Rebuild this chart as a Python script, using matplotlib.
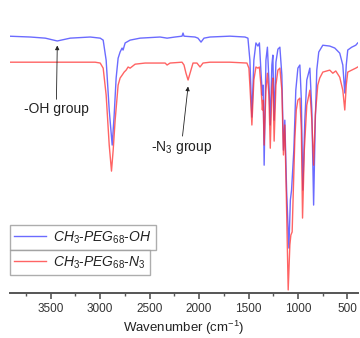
import matplotlib
matplotlib.use("Agg")
import matplotlib.pyplot as plt
from matplotlib.ticker import MultipleLocator

plt.rcParams['font.family'] = ['Liberation Sans', 'DejaVu Sans']
plt.rcParams['mathtext.fontset'] = 'custom'
plt.rcParams['mathtext.it'] = 'Liberation Sans:italic'
plt.rcParams['mathtext.rm'] = 'Liberation Sans'

# CH3-PEG68-OH spectrum (wavenumber cm-1, transmittance a.u.)
oh_wn = [4000, 3706, 3554, 3433, 3302, 3100, 2999, 2969, 2939, 2908, 2878, 2858, 2838,
         2818, 2798, 2778, 2768, 2747, 2697, 2596, 2394, 2323, 2243, 2172, 2162, 2152,
         2041, 2011, 1980, 1950, 1889, 1688, 1536, 1506, 1486, 1466, 1446, 1425, 1405,
         1390, 1375, 1360, 1352, 1342, 1324, 1309, 1294, 1280, 1264, 1254, 1241, 1223,
         1203, 1183, 1163, 1147, 1133, 1115, 1092, 1077, 1065, 1042, 1022, 1001, 981,
         966, 951, 931, 911, 880, 860, 842, 825, 810, 790, 749, 679, 628, 578, 547,
         527, 512, 497, 457, 416, 396]
oh_t = [90.9, 90.5, 90.1, 89.1, 90.1, 90.5, 90.1, 89.4, 82.3, 64.7, 52.3, 62.9, 76.0,
        83.0, 85.2, 86.6, 85.9, 88.4, 89.4, 90.1, 90.5, 90.1, 90.5, 90.8, 91.9, 90.8,
        90.5, 90.1, 88.7, 90.1, 90.5, 90.8, 90.5, 90.1, 82.3, 62.2, 82.3, 88.4, 87.3,
        88.4, 78.8, 70.0, 73.5, 45.2, 82.3, 86.9, 75.3, 59.4, 80.6, 84.1, 61.1, 81.6,
        86.2, 86.9, 77.0, 50.5, 61.1, 36.4, 15.9, 32.9, 36.4, 50.5, 71.7, 79.5, 80.6,
        68.2, 36.4, 61.1, 75.3, 79.5, 64.7, 31.1, 61.1, 78.8, 85.2, 87.6, 87.3, 86.6,
        84.8, 80.6, 70.7, 80.6, 85.9, 86.9, 87.6, 88.4]

# CH3-PEG68-N3 spectrum
n3_wn = [4000, 3500, 3050, 2999, 2969, 2939, 2908, 2885, 2868, 2848, 2818, 2798, 2778,
         2757, 2737, 2717, 2697, 2646, 2545, 2343, 2323, 2293, 2172, 2152, 2132, 2111,
         2091, 2061, 2021, 1990, 1960, 1889, 1688, 1516, 1496, 1481, 1466, 1446, 1425,
         1405, 1390, 1375, 1360, 1352, 1342, 1324, 1309, 1294, 1280, 1264, 1254, 1241,
         1223, 1203, 1183, 1163, 1147, 1133, 1117, 1099, 1082, 1072, 1059, 1047, 1032,
         1017, 1001, 981, 966, 954, 936, 911, 880, 860, 842, 825, 800, 780, 749, 709,
         679, 648, 618, 578, 547, 527, 512, 497, 457, 416, 396]
n3_t = [81.6, 81.6, 81.6, 81.3, 79.5, 70.0, 52.3, 43.1, 50.5, 61.1, 73.5, 76.0, 77.0,
        78.1, 78.8, 79.9, 79.5, 80.9, 81.3, 81.3, 80.6, 81.3, 81.6, 80.6, 77.7, 75.3,
        77.7, 81.3, 81.3, 79.9, 81.3, 81.6, 81.6, 81.3, 79.5, 70.0, 59.4, 75.3, 79.9,
        79.5, 79.9, 73.5, 64.7, 68.2, 52.3, 71.7, 77.7, 70.0, 51.2, 72.4, 76.0, 53.7,
        73.5, 78.8, 79.5, 71.7, 48.8, 59.4, 32.9, 1.1, 17.0, 20.5, 21.6, 36.4, 54.1,
        64.7, 68.2, 68.9, 57.6, 26.5, 50.5, 66.4, 71.7, 61.1, 45.2, 62.9, 73.5, 76.0,
        78.1, 78.5, 78.8, 77.7, 78.5, 76.3, 71.7, 64.7, 73.5, 78.1, 78.8, 79.5, 79.9]

labels = [r'$CH_3$-$PEG_{68}$-$OH$', r'$CH_3$-$PEG_{68}$-$N_3$']
xticks = [3500, 3000, 2500, 2000, 1500, 1000, 500]

fig = plt.figure(figsize=(3.6, 3.38), dpi=100)
ax = fig.add_axes([0.028, 0.133, 0.966, 0.837])

l1, = ax.plot(oh_wn, oh_t, color='#3a3aff', lw=1.0, alpha=0.75)
l2, = ax.plot(n3_wn, n3_t, color='#ff3030', lw=1.0, alpha=0.75)

ax.set_xlim(3910, 395)
ax.set_ylim(0, 100)
ax.set_xticks(xticks)
ax.xaxis.set_minor_locator(MultipleLocator(250))
ax.set_yticks([])
for s in ['top', 'left', 'right']:
    ax.spines[s].set_visible(False)
ax.spines['bottom'].set_color('#555555')
ax.spines['bottom'].set_linewidth(1.4)
ax.tick_params(axis='x', which='major', direction='out', length=4, width=1.2,
               color='#555555', labelsize=8.5, labelcolor='#333333', pad=3)
ax.tick_params(axis='x', which='minor', direction='out', length=2.5, width=1.0,
               color='#555555')
ax.set_xlabel('Wavenumber (cm$^{-1}$)', fontsize=9.5, color='#222222', labelpad=3)

ax.annotate('-OH group', xy=(3433, 87.5), xytext=(3443, 67.5), fontsize=10,
            ha='center', va='top', color='#222222',
            arrowprops=dict(arrowstyle='-|>', color='#222222', lw=0.6,
                            mutation_scale=6, shrinkA=0, shrinkB=0))
ax.annotate('-N$_3$ group', xy=(2111, 73.0), xytext=(2180, 54.5), fontsize=10,
            ha='center', va='top', color='#222222',
            arrowprops=dict(arrowstyle='-|>', color='#222222', lw=0.6,
                            mutation_scale=6, shrinkA=0, shrinkB=0))

common = dict(fontsize=10, frameon=True, fancybox=False, edgecolor='#999999',
              borderpad=0.3, handlelength=2.3, handletextpad=0.5,
              borderaxespad=0, loc='upper left')
leg1 = fig.legend([l1], [labels[0]], bbox_to_anchor=(0.028, 0.334), **common)
leg2 = fig.legend([l2], [labels[1]], bbox_to_anchor=(0.028, 0.260), **common)
for leg in (leg1, leg2):
    leg.get_frame().set_linewidth(1.0)
    for t in leg.get_texts():
        t.set_color('#222222')

fig.savefig('out.png', dpi=100)
